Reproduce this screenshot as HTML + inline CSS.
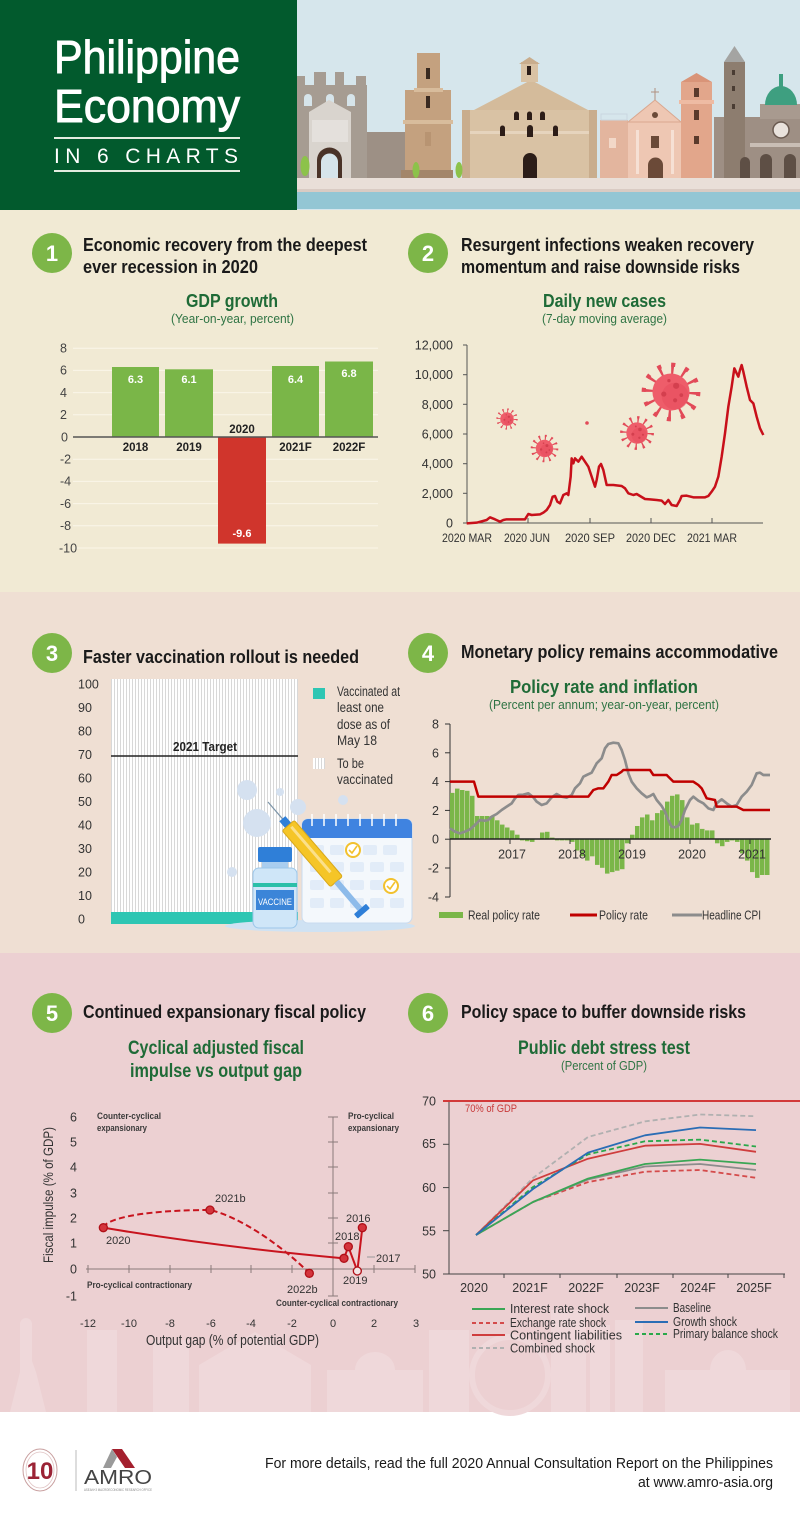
<!DOCTYPE html>
<html><head><meta charset="utf-8"><style>html,body{margin:0;padding:0;background:#fff}svg{display:block}</style></head>
<body>
<svg width="800" height="1520" viewBox="0 0 800 1520" xmlns="http://www.w3.org/2000/svg" xmlns:xlink="http://www.w3.org/1999/xlink" font-family="'Liberation Sans', sans-serif">
<defs>
<pattern id="stripe" width="3" height="10" patternUnits="userSpaceOnUse"><rect width="3" height="10" fill="#ffffff"/><rect width="0.8" height="10" fill="#cfcfcf"/></pattern>
<symbol id="virus" viewBox="-32 -32 64 64">
<circle r="22" fill="none" stroke="#e24a58" stroke-width="9" stroke-dasharray="2.5 9.02"/>
<circle r="26.5" fill="none" stroke="#e24a58" stroke-width="4" stroke-dasharray="4 9.875"/>
<circle r="18" fill="#ee5d6a"/>
<circle cx="4" cy="4" r="13" fill="#e54c5b" opacity="0.5"/>
<circle cx="5" cy="-6" r="3" fill="#d43f4e"/><circle cx="-7" cy="2" r="2.5" fill="#d43f4e"/><circle cx="4" cy="8" r="2" fill="#d43f4e"/><circle cx="-2" cy="-11" r="1.6" fill="#d43f4e"/><circle cx="10" cy="3" r="1.8" fill="#d43f4e"/>
</symbol>
</defs>

<!-- backgrounds -->
<rect x="0" y="209" width="800" height="384" fill="#f1ead4"/>
<rect x="0" y="592" width="800" height="362" fill="#efdfd3"/>
<rect x="0" y="953" width="800" height="460" fill="#ecd0d2"/>
<rect x="0" y="1412" width="800" height="108" fill="#ffffff"/>

<!-- HEADER -->
<rect x="0" y="0" width="297" height="210" fill="#025a2d"/>
<rect x="297" y="0" width="503" height="210" fill="#d6e6ec"/>
<text x="54" y="73" font-size="46" fill="#ffffff" stroke="#ffffff" stroke-width="0.9" textLength="186" lengthAdjust="spacingAndGlyphs">Philippine</text>
<text x="54" y="122" font-size="46" fill="#ffffff" stroke="#ffffff" stroke-width="0.9" textLength="186" lengthAdjust="spacingAndGlyphs">Economy</text>
<rect x="54" y="137" width="186" height="2" fill="#e3ece0"/>
<text x="54" y="163" font-size="21" fill="#ffffff" textLength="184" lengthAdjust="spacing">IN 6 CHARTS</text>
<rect x="54" y="170" width="186" height="2" fill="#e3ece0"/>

<!-- skyline -->
<g>
<rect x="297" y="85" width="70" height="93" fill="#a69c92"/>
<rect x="314" y="72" width="12" height="14" fill="#a69c92"/>
<rect x="335" y="72" width="9" height="14" fill="#a69c92"/>
<rect x="297" y="76" width="8" height="10" fill="#a69c92"/>
<rect x="356" y="76" width="10" height="10" fill="#a69c92"/>
<path d="M304,106 v-8 a4,4 0 0 1 8,0 v8z" fill="#d6e4ea"/>
<path d="M326,106 v-8 a4,4 0 0 1 8,0 v8z" fill="#d6e4ea"/>
<path d="M347,106 v-8 a4,4 0 0 1 8,0 v8z" fill="#d6e4ea"/>
<polygon points="309,112 329,100 351,112 351,178 309,178" fill="#d9d4ce"/>
<rect x="312" y="120" width="36" height="22" fill="#e4e0dc"/>
<path d="M317,178 V160 a12.5,12.5 0 0 1 25,0 V178z" fill="#4a3328"/>
<path d="M321,178 V162 a8.5,8.5 0 0 1 17,0 V178z" fill="#d6e4ea"/>
<rect x="367" y="132" width="39" height="46" fill="#9d9085"/>
<rect x="405" y="90" width="46" height="88" fill="#c4a17f"/>
<rect x="417" y="53" width="23" height="40" fill="#c4a17f"/>
<rect x="414" y="88" width="29" height="4" fill="#d8bc9c"/>
<rect x="403" y="120" width="50" height="4" fill="#d8bc9c"/>
<rect x="426" y="68" width="4" height="11" fill="#3a2a20"/>
<rect x="426" y="96" width="4" height="12" fill="#3a2a20"/>
<rect x="425" y="132" width="6" height="14" fill="#b89472"/>
<rect x="401" y="170" width="52" height="8" fill="#a3866a"/>
<rect x="462" y="110" width="135" height="68" fill="#d9c2a4"/>
<polygon points="474,110 531,80 588,110" fill="#d4bb9b"/>
<rect x="521" y="62" width="17" height="20" fill="#d9c2a4"/>
<polygon points="519,64 529.5,57 540,64" fill="#c9ad8d"/>
<rect x="527" y="66" width="4" height="9" fill="#2c1d18"/>
<rect x="462" y="131" width="135" height="3" fill="#e6d4bd"/>
<rect x="462" y="110" width="8" height="68" fill="#c9ad8d"/>
<rect x="589" y="110" width="8" height="68" fill="#c9ad8d"/>
<path d="M514,120 v-6 a2.5,2.5 0 0 1 5,0 v6z" fill="#2c1d18"/>
<path d="M527,120 v-6 a2.5,2.5 0 0 1 5,0 v6z" fill="#2c1d18"/>
<path d="M540,120 v-6 a2.5,2.5 0 0 1 5,0 v6z" fill="#2c1d18"/>
<path d="M500,136 v-8 a2.5,2.5 0 0 1 5,0 v8z" fill="#2c1d18"/>
<path d="M527,137 v-9 a3,3 0 0 1 6,0 v9z" fill="#2c1d18"/>
<path d="M553,136 v-8 a2.5,2.5 0 0 1 5,0 v8z" fill="#2c1d18"/>
<path d="M523,178 V160 a7,7 0 0 1 14,0 V178z" fill="#2c1d18"/>
<rect x="600" y="120" width="28" height="58" fill="#e3b59e"/>
<rect x="601" y="114" width="26" height="6" fill="none" stroke="#c9d6e0" stroke-width="1"/>
<rect x="609" y="138" width="7" height="10" fill="#f2d8c8"/>
<rect x="628" y="122" width="53" height="56" fill="#eec7b3"/>
<polygon points="628,122 655,100 681,122" fill="#eec7b3" stroke="#d9a78f" stroke-width="1"/>
<line x1="655" y1="88" x2="655" y2="100" stroke="#b09080" stroke-width="1"/>
<line x1="651" y1="92" x2="659" y2="92" stroke="#b09080" stroke-width="1"/>
<circle cx="655" cy="115" r="3" fill="#6b4a38"/>
<rect x="651" y="136" width="8" height="12" fill="#6b4a38"/>
<rect x="636" y="130" width="3" height="44" fill="#f6e0d4"/>
<rect x="671" y="130" width="3" height="44" fill="#f6e0d4"/>
<path d="M648,178 V165 a7.5,7.5 0 0 1 15,0 V178z" fill="#6b4a38"/>
<rect x="681" y="82" width="31" height="96" fill="#e2a68b"/>
<polygon points="681,82 696.5,73 712,82" fill="#d99478"/>
<rect x="679" y="100" width="35" height="4" fill="#eebba3"/>
<rect x="694" y="88" width="5" height="9" fill="#5a3a2c"/>
<rect x="694" y="110" width="5" height="10" fill="#5a3a2c"/>
<rect x="694" y="136" width="5" height="8" fill="#5a3a2c"/>
<rect x="714" y="117" width="86" height="61" fill="#9e8f84"/>
<rect x="724" y="62" width="21" height="116" fill="#8d7d6f"/>
<polygon points="724,62 734.5,46 745,62" fill="#a4a4a2"/>
<rect x="732" y="70" width="3" height="5" fill="#4a3c33"/>
<rect x="732" y="86" width="3" height="5" fill="#4a3c33"/>
<rect x="732" y="104" width="3" height="5" fill="#4a3c33"/>
<rect x="760" y="104" width="40" height="15" fill="#a89a8f"/>
<path d="M765,105 a16,19 0 0 1 32,0z" fill="#3e9f80"/>
<rect x="779" y="74" width="4" height="14" fill="#3e9f80"/>
<circle cx="781" cy="130" r="8" fill="#e9e2dc" stroke="#6a5a50" stroke-width="1.5"/>
<rect x="750" y="143" width="50" height="4" fill="#c9beb5"/>
<path d="M740,178 V162 a5,5 0 0 1 10,0 V178z" fill="#5e4f45"/>
<path d="M760,178 V160 a6,6 0 0 1 12,0 V178z" fill="#5e4f45"/>
<path d="M784,178 V160 a6,6 0 0 1 12,0 V178z" fill="#5e4f45"/>
<ellipse cx="305" cy="166" rx="4.5" ry="10" fill="#8cc24a"/>
<ellipse cx="416" cy="170" rx="3.5" ry="8" fill="#8cc24a"/>
<ellipse cx="459" cy="170" rx="3.5" ry="8" fill="#8cc24a"/>
<rect x="297" y="178" width="503" height="12" fill="#e9dfd8"/>
<rect x="297" y="189" width="503" height="3" fill="#d9cbc3"/>
<rect x="297" y="192" width="503" height="17" fill="#93c6d4"/>
</g>

<!-- CHART 1 -->
<circle cx="52" cy="253" r="20" fill="#7db648"/>
<text x="52" y="261" font-size="22" font-weight="bold" fill="#fff" text-anchor="middle">1</text>
<text x="83" y="251" font-size="18" font-weight="bold" fill="#1a1a1a" textLength="284" lengthAdjust="spacingAndGlyphs">Economic recovery from the deepest</text>
<text x="83" y="273" font-size="18" font-weight="bold" fill="#1a1a1a" textLength="175" lengthAdjust="spacingAndGlyphs">ever recession in 2020</text>
<text x="186" y="307" font-size="18" font-weight="bold" fill="#1f6b37" textLength="92" lengthAdjust="spacingAndGlyphs">GDP growth</text>
<text x="171" y="323" font-size="12.5" fill="#2f7444" textLength="123" lengthAdjust="spacingAndGlyphs">(Year-on-year, percent)</text>
<g stroke="#faf6e9" stroke-width="1">
<line x1="73" y1="348.2" x2="378" y2="348.2"/><line x1="73" y1="370.4" x2="378" y2="370.4"/><line x1="73" y1="392.6" x2="378" y2="392.6"/><line x1="73" y1="414.8" x2="378" y2="414.8"/><line x1="73" y1="459.2" x2="378" y2="459.2"/><line x1="73" y1="481.4" x2="378" y2="481.4"/><line x1="73" y1="503.6" x2="378" y2="503.6"/><line x1="73" y1="525.8" x2="378" y2="525.8"/><line x1="73" y1="548" x2="378" y2="548"/>
</g>
<g font-size="12.5" fill="#444">
<text x="60" y="352.5">8</text><text x="60" y="374.7">6</text><text x="60" y="396.9">4</text><text x="60" y="419.1">2</text><text x="61" y="441.3">0</text><text x="60" y="463.5">-2</text><text x="60" y="485.7">-4</text><text x="60" y="507.9">-6</text><text x="60" y="530.1">-8</text><text x="59" y="552.3">-10</text>
</g>
<rect x="112" y="367" width="47" height="70" fill="#7ab648"/>
<rect x="165" y="369.3" width="48" height="67.7" fill="#7ab648"/>
<rect x="218" y="437" width="48" height="106.6" fill="#d0352c"/>
<rect x="272" y="366" width="47" height="71" fill="#7ab648"/>
<rect x="325" y="361.5" width="48" height="75.5" fill="#7ab648"/>
<line x1="73" y1="437" x2="378" y2="437" stroke="#555" stroke-width="1.5"/>
<g font-size="11" font-weight="bold" fill="#fff" text-anchor="middle">
<text x="135.5" y="383">6.3</text><text x="189" y="383">6.1</text><text x="295.5" y="383">6.4</text><text x="349" y="377">6.8</text><text x="242" y="537">-9.6</text>
</g>
<g font-size="11.5" font-weight="bold" fill="#222" text-anchor="middle">
<text x="135.5" y="451">2018</text><text x="189" y="451">2019</text><text x="242" y="433">2020</text><text x="295.5" y="451">2021F</text><text x="349" y="451">2022F</text>
</g>

<!-- CHART 2 -->
<circle cx="428" cy="253" r="20" fill="#7db648"/>
<text x="428" y="261" font-size="22" font-weight="bold" fill="#fff" text-anchor="middle">2</text>
<text x="461" y="251" font-size="18" font-weight="bold" fill="#1a1a1a" textLength="293" lengthAdjust="spacingAndGlyphs">Resurgent infections weaken recovery</text>
<text x="461" y="273" font-size="18" font-weight="bold" fill="#1a1a1a" textLength="279" lengthAdjust="spacingAndGlyphs">momentum and raise downside risks</text>
<text x="543" y="307" font-size="18" font-weight="bold" fill="#1f6b37" textLength="123" lengthAdjust="spacingAndGlyphs">Daily new cases</text>
<text x="542" y="323" font-size="12.5" fill="#2f7444" textLength="125" lengthAdjust="spacingAndGlyphs">(7-day moving average)</text>
<g font-size="12.5" fill="#333" text-anchor="end">
<text x="453" y="349.5">12,000</text><text x="453" y="379.2">10,000</text><text x="453" y="408.8">8,000</text><text x="453" y="438.5">6,000</text><text x="453" y="468.2">4,000</text><text x="453" y="497.8">2,000</text><text x="453" y="527.5">0</text>
</g>
<g stroke="#555" stroke-width="1">
<line x1="467" y1="345" x2="467" y2="523"/>
<line x1="467" y1="523" x2="763" y2="523"/>
<line x1="463" y1="345" x2="467" y2="345"/><line x1="463" y1="374.7" x2="467" y2="374.7"/><line x1="463" y1="404.3" x2="467" y2="404.3"/><line x1="463" y1="434" x2="467" y2="434"/><line x1="463" y1="463.7" x2="467" y2="463.7"/><line x1="463" y1="493.3" x2="467" y2="493.3"/><line x1="463" y1="523" x2="467" y2="523"/>
<line x1="528" y1="518" x2="528" y2="523"/><line x1="590" y1="518" x2="590" y2="523"/><line x1="651" y1="518" x2="651" y2="523"/><line x1="712" y1="518" x2="712" y2="523"/>
</g>
<g font-size="12" fill="#333">
<text x="442" y="542" textLength="50" lengthAdjust="spacingAndGlyphs">2020 MAR</text><text x="504" y="542" textLength="46" lengthAdjust="spacingAndGlyphs">2020 JUN</text><text x="565" y="542" textLength="50" lengthAdjust="spacingAndGlyphs">2020 SEP</text><text x="626" y="542" textLength="50" lengthAdjust="spacingAndGlyphs">2020 DEC</text><text x="687" y="542" textLength="50" lengthAdjust="spacingAndGlyphs">2021 MAR</text>
</g>
<use xlink:href="#virus" href="#virus" x="495" y="407" width="24" height="24"/>
<use xlink:href="#virus" href="#virus" x="529" y="433" width="31" height="31"/>
<use xlink:href="#virus" href="#virus" x="618" y="414" width="38" height="38"/>
<use xlink:href="#virus" href="#virus" x="638" y="359" width="66" height="66"/>
<circle cx="587" cy="423" r="1.8" fill="#e24a58"/>
<g transform="translate(400,210) scale(0.333333)">
<path d="M200,940 L230,938 L260,930 L270,922 L285,928 L300,935 L310,930 L320,928 L375,928 L385,912 L395,915 L420,913 L430,908 L440,900 L450,885 L458,860 L465,858 L472,875 L480,880 L490,855 L500,850 L505,855 L512,800 L515,745 L520,760 L525,745 L535,755 L545,740 L555,755 L565,770 L575,800 L585,830 L590,810 L597,770 L603,762 L610,780 L620,825 L640,825 L665,828 L675,835 L685,850 L700,855 L710,852 L720,858 L735,867 L750,868 L770,870 L785,872 L795,882 L805,870 L815,885 L830,888 L840,870 L845,858 L860,857 L880,862 L900,862 L915,862 L925,858 L935,845 L945,830 L955,800 L965,740 L975,670 L985,590 L995,530 L1003,475 L1010,490 L1015,500 L1020,480 L1025,465 L1030,485 L1040,530 L1050,570 L1060,580 L1070,620 L1080,655 L1090,675" fill="none" stroke="#c8101a" stroke-width="7.5" stroke-linejoin="round"/>
</g>

<!-- CHART 3 -->
<circle cx="52" cy="653" r="20" fill="#7db648"/>
<text x="52" y="661" font-size="22" font-weight="bold" fill="#fff" text-anchor="middle">3</text>
<text x="83" y="663" font-size="18" font-weight="bold" fill="#1a1a1a" textLength="276" lengthAdjust="spacingAndGlyphs">Faster vaccination rollout is needed</text>
<g font-size="12.5" fill="#333">
<text x="78" y="688.5">100</text><text x="78" y="712">90</text><text x="78" y="735.5">80</text><text x="78" y="759">70</text><text x="78" y="782.5">60</text><text x="78" y="806">50</text><text x="78" y="829.5">40</text><text x="78" y="853">30</text><text x="78" y="876.5">20</text><text x="78" y="900">10</text><text x="78" y="923.5">0</text>
</g>
<rect x="111" y="679" width="187" height="245" fill="url(#stripe)"/>
<rect x="111" y="912" width="187" height="12" fill="#2ec6b3"/>
<line x1="111" y1="756" x2="298" y2="756" stroke="#222" stroke-width="1.6"/>
<text x="173" y="751" font-size="13" font-weight="bold" fill="#222" textLength="64" lengthAdjust="spacingAndGlyphs">2021 Target</text>
<rect x="313" y="688" width="12" height="11" fill="#2ec6b3"/>
<rect x="313" y="758" width="12" height="11" fill="url(#stripe)"/>
<g font-size="13.5" fill="#333">
<text x="337" y="696" textLength="63" lengthAdjust="spacingAndGlyphs">Vaccinated at</text>
<text x="337" y="712" textLength="47" lengthAdjust="spacingAndGlyphs">least one</text>
<text x="337" y="729" textLength="53" lengthAdjust="spacingAndGlyphs">dose as of</text>
<text x="337" y="745" textLength="40" lengthAdjust="spacingAndGlyphs">May 18</text>
<text x="337" y="768" textLength="27" lengthAdjust="spacingAndGlyphs">To be</text>
<text x="337" y="784" textLength="56" lengthAdjust="spacingAndGlyphs">vaccinated</text>
</g>
<!-- vaccine illustration -->
<g fill="#d5e1f0">
<circle cx="247" cy="790" r="10"/><circle cx="257" cy="823" r="14"/><circle cx="280" cy="792" r="4"/><circle cx="298" cy="807" r="8"/><circle cx="343" cy="800" r="5"/><circle cx="232" cy="872" r="5"/>
</g>
<ellipse cx="320" cy="926" rx="95" ry="6" fill="#cfe2f3"/>
<rect x="302" y="819" width="110" height="104" rx="6" fill="#f4f8fc" stroke="#c9dbef" stroke-width="1"/>
<path d="M308,819 h98 a6,6 0 0 1 6,6 v13 h-110 v-13 a6,6 0 0 1 6,-6z" fill="#3f83e0"/>
<g stroke="#fff" stroke-width="1.5"><line x1="312" y1="814" x2="312" y2="826"/><line x1="324" y1="814" x2="324" y2="826"/><line x1="336" y1="814" x2="336" y2="826"/><line x1="348" y1="814" x2="348" y2="826"/><line x1="360" y1="814" x2="360" y2="826"/><line x1="372" y1="814" x2="372" y2="826"/><line x1="384" y1="814" x2="384" y2="826"/><line x1="396" y1="814" x2="396" y2="826"/></g>
<g fill="#e2ecf8">
<rect x="310" y="845" width="14" height="10" rx="2"/><rect x="330" y="845" width="14" height="10" rx="2"/><rect x="363" y="845" width="14" height="10" rx="2"/><rect x="383" y="845" width="14" height="10" rx="2"/>
<rect x="310" y="862" width="14" height="10" rx="2"/><rect x="330" y="862" width="14" height="10" rx="2"/><rect x="350" y="862" width="14" height="10" rx="2"/><rect x="370" y="862" width="14" height="10" rx="2"/><rect x="390" y="862" width="14" height="10" rx="2"/>
<rect x="310" y="880" width="14" height="10" rx="2"/><rect x="330" y="880" width="14" height="10" rx="2"/><rect x="350" y="880" width="14" height="10" rx="2"/><rect x="370" y="880" width="14" height="10" rx="2"/>
<rect x="310" y="898" width="14" height="10" rx="2"/><rect x="330" y="898" width="14" height="10" rx="2"/><rect x="350" y="898" width="14" height="10" rx="2"/><rect x="370" y="898" width="14" height="10" rx="2"/><rect x="390" y="898" width="14" height="10" rx="2"/>
</g>
<circle cx="353" cy="850" r="7" fill="#fff" stroke="#f2c12e" stroke-width="2"/>
<polyline points="349,850 352,853 357,846" fill="none" stroke="#f2c12e" stroke-width="1.6"/>
<circle cx="391" cy="886" r="7" fill="#fff" stroke="#f2c12e" stroke-width="2"/>
<polyline points="387,886 390,889 395,882" fill="none" stroke="#f2c12e" stroke-width="1.6"/>
<rect x="258" y="847" width="34" height="15" rx="2" fill="#2f7fd8"/>
<rect x="262" y="862" width="26" height="6" fill="#a9cdef"/>
<rect x="253" y="868" width="44" height="60" rx="6" fill="#cfe6f8" stroke="#9cc7ea" stroke-width="1"/>
<rect x="253" y="883" width="44" height="4" fill="#2bbfa8"/>
<rect x="256" y="890" width="38" height="20" fill="#3b85d8"/>
<text x="275" y="905" font-size="9" fill="#fff" text-anchor="middle" textLength="34" lengthAdjust="spacingAndGlyphs">VACCINE</text>
<g transform="translate(268,802) rotate(49.3)">
<line x1="0" y1="0" x2="24" y2="0" stroke="#7c94a8" stroke-width="1.2"/>
<rect x="22" y="-4" width="9" height="8" fill="#2f7fd8"/>
<rect x="31" y="-8" width="74" height="16" rx="2" fill="#f5c527" stroke="#d9a81a" stroke-width="1"/>
<rect x="34" y="-3" width="60" height="3" fill="#fbe08a"/>
<rect x="105" y="-3" width="36" height="6" fill="#8dbbea"/>
<rect x="141" y="-8" width="6" height="16" rx="1" fill="#2f7fd8"/>
</g>

<!-- CHART 4 -->
<circle cx="428" cy="653" r="20" fill="#7db648"/>
<text x="428" y="661" font-size="22" font-weight="bold" fill="#fff" text-anchor="middle">4</text>
<text x="461" y="658" font-size="18" font-weight="bold" fill="#1a1a1a" textLength="317" lengthAdjust="spacingAndGlyphs">Monetary policy remains accommodative</text>
<text x="510" y="693" font-size="18" font-weight="bold" fill="#1f6b37" textLength="188" lengthAdjust="spacingAndGlyphs">Policy rate and inflation</text>
<text x="489" y="709" font-size="12.5" fill="#2f7444" textLength="230" lengthAdjust="spacingAndGlyphs">(Percent per annum; year-on-year, percent)</text>
<g font-size="12.5" fill="#333" text-anchor="end">
<text x="439" y="728.5">8</text><text x="439" y="757.3">6</text><text x="439" y="786.1">4</text><text x="439" y="814.9">2</text><text x="439" y="843.7">0</text><text x="439" y="872.5">-2</text><text x="439" y="901.3">-4</text>
</g>
<g stroke="#333" stroke-width="1">
<line x1="450" y1="724" x2="450" y2="897"/>
<line x1="445" y1="724" x2="450" y2="724"/><line x1="445" y1="752.8" x2="450" y2="752.8"/><line x1="445" y1="781.6" x2="450" y2="781.6"/><line x1="445" y1="810.4" x2="450" y2="810.4"/><line x1="445" y1="839.2" x2="450" y2="839.2"/><line x1="445" y1="868" x2="450" y2="868"/><line x1="445" y1="897" x2="450" y2="897"/>
</g>
<g fill="#7ab648">
<rect x="450" y="792.9" width="4.5" height="46.1"/><rect x="455" y="788.6" width="4.5" height="50.4"/><rect x="460" y="790" width="4.5" height="49"/><rect x="465" y="790.8" width="4.5" height="48.2"/><rect x="470" y="795.8" width="4.5" height="43.2"/>
<rect x="475" y="816" width="4.5" height="23"/><rect x="480" y="816" width="4.5" height="23"/><rect x="485" y="816" width="4.5" height="23"/><rect x="490" y="816" width="4.5" height="23"/>
<rect x="495" y="820.3" width="4.5" height="18.7"/><rect x="500" y="824.6" width="4.5" height="14.4"/><rect x="505" y="827.5" width="4.5" height="11.5"/><rect x="510" y="830.4" width="4.5" height="8.6"/><rect x="515" y="834.7" width="4.5" height="4.3"/>
<rect x="520" y="839" width="4.5" height="1.4"/><rect x="525" y="839" width="4.5" height="2.2"/><rect x="530" y="839" width="4.5" height="2.9"/>
<rect x="540" y="832.5" width="4.5" height="6.5"/><rect x="545" y="831.8" width="4.5" height="7.2"/><rect x="550" y="837.6" width="4.5" height="1.4"/>
<rect x="555" y="839" width="4.5" height="1.4"/><rect x="560" y="839" width="4.5" height="1.4"/><rect x="565" y="839" width="4.5" height="1.4"/><rect x="570" y="839" width="4.5" height="2.9"/>
<rect x="575" y="839" width="4.5" height="11.5"/><rect x="580" y="839" width="4.5" height="17.3"/><rect x="585" y="839" width="4.5" height="21.6"/><rect x="590" y="839" width="4.5" height="17.3"/><rect x="595" y="839" width="4.5" height="25.9"/><rect x="600" y="839" width="4.5" height="28.8"/><rect x="605" y="839" width="4.5" height="34.6"/><rect x="610" y="839" width="4.5" height="33.1"/><rect x="615" y="839" width="4.5" height="31.7"/><rect x="620" y="839" width="4.5" height="30.2"/><rect x="625" y="839" width="4.5" height="4.3"/>
<rect x="630" y="834.7" width="4.5" height="4.3"/><rect x="635" y="826" width="4.5" height="13"/><rect x="640" y="817.4" width="4.5" height="21.6"/><rect x="645" y="814.5" width="4.5" height="24.5"/><rect x="650" y="820.3" width="4.5" height="18.7"/><rect x="655" y="813.1" width="4.5" height="25.9"/><rect x="660" y="810.2" width="4.5" height="28.8"/><rect x="665" y="801.6" width="4.5" height="37.4"/><rect x="670" y="795.8" width="4.5" height="43.2"/><rect x="675" y="794.4" width="4.5" height="44.6"/><rect x="680" y="800.1" width="4.5" height="38.9"/><rect x="685" y="817.4" width="4.5" height="21.6"/><rect x="690" y="824.6" width="4.5" height="14.4"/><rect x="695" y="823.2" width="4.5" height="15.8"/><rect x="700" y="828.9" width="4.5" height="10.1"/><rect x="705" y="830.4" width="4.5" height="8.6"/><rect x="710" y="830.4" width="4.5" height="8.6"/>
<rect x="715" y="839" width="4.5" height="4.3"/><rect x="720" y="839" width="4.5" height="7.2"/><rect x="725" y="839" width="4.5" height="2.9"/><rect x="730" y="839" width="4.5" height="1.4"/><rect x="735" y="839" width="4.5" height="2.9"/><rect x="740" y="839" width="4.5" height="14.4"/><rect x="745" y="839" width="4.5" height="21.6"/><rect x="750" y="839" width="4.5" height="33.1"/><rect x="755" y="839" width="4.5" height="38.9"/><rect x="760" y="839" width="4.5" height="36"/><rect x="765" y="839" width="4.5" height="36"/>
</g>
<line x1="450" y1="839" x2="771" y2="839" stroke="#222" stroke-width="1.5"/>
<g stroke="#333" stroke-width="1"><line x1="510" y1="839" x2="510" y2="844"/><line x1="570" y1="839" x2="570" y2="844"/><line x1="630" y1="839" x2="630" y2="844"/><line x1="690" y1="839" x2="690" y2="844"/><line x1="750" y1="839" x2="750" y2="844"/></g>
<g transform="translate(400,590) scale(0.333333)" fill="none" stroke-linejoin="round">
<path d="M150,715 L165,725 L180,730 L195,725 L210,718 L225,705 L240,690 L255,692 L265,690 L275,680 L290,672 L305,660 L320,650 L335,640 L345,625 L355,615 L370,614 L385,610 L400,622 L410,635 L425,645 L440,640 L455,622 L470,612 L485,620 L500,623 L515,615 L525,595 L540,580 L550,560 L560,555 L575,548 L590,520 L605,505 L615,475 L625,462 L640,458 L655,460 L665,480 L675,510 L685,550 L695,575 L710,595 L725,610 L740,622 L750,618 L760,612 L770,630 L785,648 L795,665 L805,690 L815,710 L825,712 L835,708 L845,690 L855,660 L870,630 L880,620 L895,632 L910,640 L925,655 L940,660 L950,640 L965,628 L980,640 L995,650 L1010,645 L1025,620 L1040,605 L1055,585 L1070,550 L1080,548 L1090,555 L1110,555" stroke="#8c8c8c" stroke-width="8"/>
<path d="M150,575 L222,575 L235,620 L565,620 L580,600 L595,595 L610,595 L625,575 L635,555 L650,555 L665,545 L670,540 L750,540 L760,555 L800,555 L820,575 L880,575 L895,585 L905,595 L920,625 L945,630 L950,650 L1010,650 L1030,660 L1110,660" stroke="#c00000" stroke-width="7.5"/>
</g>
<g font-size="12.5" fill="#333" text-anchor="middle">
<text x="512" y="858.5">2017</text><text x="572" y="858.5">2018</text><text x="632" y="858.5">2019</text><text x="692" y="858.5">2020</text><text x="752" y="858.5">2021</text>
</g>
<rect x="439" y="912" width="24" height="6" fill="#7ab648"/>
<text x="468" y="919.5" font-size="12.5" fill="#333" textLength="72" lengthAdjust="spacingAndGlyphs">Real policy rate</text>
<line x1="570" y1="915" x2="597" y2="915" stroke="#c00000" stroke-width="3"/>
<text x="599" y="919.5" font-size="12.5" fill="#333" textLength="49" lengthAdjust="spacingAndGlyphs">Policy rate</text>
<line x1="672" y1="915" x2="702" y2="915" stroke="#8c8c8c" stroke-width="3"/>
<text x="702" y="919.5" font-size="12.5" fill="#333" textLength="59" lengthAdjust="spacingAndGlyphs">Headline CPI</text>

<!-- section 3 faint silhouettes -->
<g fill="#efd8da">
<rect x="20" y="1318" width="12" height="94" rx="6"/>
<polygon points="10,1412 20,1372 28,1350 36,1372 46,1412"/>
<rect x="87" y="1330" width="30" height="82"/>
<rect x="153" y="1340" width="36" height="72"/>
<polygon points="199,1412 199,1365 255,1332 311,1365 311,1412"/>
<rect x="327" y="1370" width="96" height="42"/>
<path d="M355,1370 a20,18 0 0 1 40,0z"/>
<rect x="429" y="1330" width="40" height="82"/>
<circle cx="510" cy="1375" r="38" fill="none" stroke="#efd8da" stroke-width="6"/>
<rect x="551" y="1310" width="35" height="102"/>
<rect x="590" y="1325" width="20" height="87"/>
<rect x="615" y="1320" width="28" height="92"/>
<rect x="665" y="1370" width="125" height="42"/>
<path d="M710,1370 a18,20 0 0 1 36,0z"/>
</g>

<!-- CHART 5 -->
<circle cx="52" cy="1013" r="20" fill="#7db648"/>
<text x="52" y="1021" font-size="22" font-weight="bold" fill="#fff" text-anchor="middle">5</text>
<text x="83" y="1018" font-size="18" font-weight="bold" fill="#1a1a1a" textLength="283" lengthAdjust="spacingAndGlyphs">Continued expansionary fiscal policy</text>
<text x="128" y="1054" font-size="19" font-weight="bold" fill="#1f6b37" textLength="176" lengthAdjust="spacingAndGlyphs">Cyclical adjusted fiscal</text>
<text x="130" y="1077" font-size="19" font-weight="bold" fill="#1f6b37" textLength="172" lengthAdjust="spacingAndGlyphs">impulse vs output gap</text>
<g font-size="12.5" fill="#333" text-anchor="end">
<text x="77" y="1121.5">6</text><text x="77" y="1146.5">5</text><text x="77" y="1171.5">4</text><text x="77" y="1197.5">3</text><text x="77" y="1222.5">2</text><text x="77" y="1247.5">1</text><text x="77" y="1273.5">0</text><text x="77" y="1300.5">-1</text>
</g>
<text transform="translate(53,1195) rotate(-90)" x="-68" y="0" font-size="13.5" fill="#333" textLength="136" lengthAdjust="spacingAndGlyphs">Fiscal impulse (% of GDP)</text>
<g stroke="#8a7a7a" stroke-width="1">
<line x1="86" y1="1269" x2="415" y2="1269"/>
<line x1="333" y1="1117" x2="333" y2="1296"/>
<line x1="88" y1="1265" x2="88" y2="1273"/><line x1="129" y1="1265" x2="129" y2="1273"/><line x1="170" y1="1265" x2="170" y2="1273"/><line x1="211" y1="1265" x2="211" y2="1273"/><line x1="251" y1="1265" x2="251" y2="1273"/><line x1="292" y1="1265" x2="292" y2="1273"/><line x1="374" y1="1265" x2="374" y2="1273"/><line x1="415" y1="1265" x2="415" y2="1273"/>
<line x1="328" y1="1117" x2="338" y2="1117"/><line x1="328" y1="1142" x2="338" y2="1142"/><line x1="328" y1="1167" x2="338" y2="1167"/><line x1="328" y1="1193" x2="338" y2="1193"/><line x1="328" y1="1218" x2="338" y2="1218"/><line x1="328" y1="1243" x2="338" y2="1243"/><line x1="328" y1="1296" x2="338" y2="1296"/>
</g>
<g font-size="9.5" font-weight="bold" fill="#3a3a3a">
<text x="97" y="1119" textLength="64" lengthAdjust="spacingAndGlyphs">Counter-cyclical</text>
<text x="97" y="1131" textLength="50" lengthAdjust="spacingAndGlyphs">expansionary</text>
<text x="348" y="1119" textLength="46" lengthAdjust="spacingAndGlyphs">Pro-cyclical</text>
<text x="348" y="1131" textLength="51" lengthAdjust="spacingAndGlyphs">expansionary</text>
<text x="87" y="1288" textLength="105" lengthAdjust="spacingAndGlyphs">Pro-cyclical contractionary</text>
<text x="276" y="1306" textLength="122" lengthAdjust="spacingAndGlyphs">Counter-cyclical contractionary</text>
</g>
<g transform="translate(0,980) scale(0.333333)" fill="none">
<path d="M310,743 Q650,800 1032,835 L1045,800 L1072,873 L1087,743" stroke="#c8141e" stroke-width="6" stroke-linejoin="round"/>
<path d="M310,743 C320,712 450,690 630,690 C720,710 850,800 928,880" stroke="#c8141e" stroke-width="6" stroke-dasharray="18 10"/>
<g fill="#d4343c" stroke="#b01018" stroke-width="4">
<circle cx="310" cy="743" r="12"/><circle cx="630" cy="690" r="12"/><circle cx="928" cy="880" r="12"/><circle cx="1087" cy="743" r="12"/><circle cx="1045" cy="800" r="12"/><circle cx="1032" cy="835" r="12"/>
<circle cx="1072" cy="873" r="12" fill="#f2e6e6"/>
</g>
</g>
<line x1="367" y1="1257" x2="375" y2="1257" stroke="#999" stroke-width="1"/>
<g font-size="11" fill="#333">
<text x="106" y="1244">2020</text><text x="215" y="1202">2021b</text><text x="287" y="1293">2022b</text><text x="346" y="1222">2016</text><text x="335" y="1240">2018</text><text x="343" y="1284">2019</text><text x="376" y="1262">2017</text>
</g>
<g font-size="11" fill="#333" text-anchor="middle">
<text x="88" y="1327">-12</text><text x="129" y="1327">-10</text><text x="170" y="1327">-8</text><text x="211" y="1327">-6</text><text x="251" y="1327">-4</text><text x="292" y="1327">-2</text><text x="333" y="1327">0</text><text x="374" y="1327">2</text><text x="416" y="1327">3</text>
</g>
<text x="146" y="1345" font-size="15" fill="#333" textLength="173" lengthAdjust="spacingAndGlyphs">Output gap (% of potential GDP)</text>

<!-- CHART 6 -->
<circle cx="428" cy="1013" r="20" fill="#7db648"/>
<text x="428" y="1021" font-size="22" font-weight="bold" fill="#fff" text-anchor="middle">6</text>
<text x="461" y="1018" font-size="18" font-weight="bold" fill="#1a1a1a" textLength="285" lengthAdjust="spacingAndGlyphs">Policy space to buffer downside risks</text>
<text x="518" y="1054" font-size="19" font-weight="bold" fill="#1f6b37" textLength="172" lengthAdjust="spacingAndGlyphs">Public debt stress test</text>
<text x="561" y="1070" font-size="12.5" fill="#2f7444" textLength="86" lengthAdjust="spacingAndGlyphs">(Percent of GDP)</text>
<g font-size="12.5" fill="#333" text-anchor="end">
<text x="436" y="1105.5">70</text><text x="436" y="1147.8">65</text><text x="436" y="1191.8">60</text><text x="436" y="1235.5">55</text><text x="436" y="1278.5">50</text>
</g>
<g stroke="#444" stroke-width="1">
<line x1="449" y1="1101" x2="449" y2="1274"/>
<line x1="449" y1="1274" x2="785" y2="1274"/>
<line x1="443" y1="1101" x2="449" y2="1101"/><line x1="443" y1="1144.3" x2="449" y2="1144.3"/><line x1="443" y1="1187.6" x2="449" y2="1187.6"/><line x1="443" y1="1230.7" x2="449" y2="1230.7"/><line x1="443" y1="1274" x2="449" y2="1274"/>
<line x1="504" y1="1274" x2="504" y2="1278"/><line x1="560" y1="1274" x2="560" y2="1278"/><line x1="617" y1="1274" x2="617" y2="1278"/><line x1="673" y1="1274" x2="673" y2="1278"/><line x1="728" y1="1274" x2="728" y2="1278"/><line x1="784" y1="1274" x2="784" y2="1278"/>
</g>
<line x1="443" y1="1101" x2="800" y2="1101" stroke="#d23a3a" stroke-width="2"/>
<text x="465" y="1112" font-size="11" fill="#c83a3a" textLength="52" lengthAdjust="spacingAndGlyphs">70% of GDP</text>
<g fill="none" stroke-width="1.8" stroke-linejoin="round">
<polyline points="476,1235 533,1178 588,1137 645,1121.4 700,1114.5 756,1116.2" stroke="#b0b0b0" stroke-dasharray="5 3"/>
<polyline points="476,1235 533,1202 588,1182.1 645,1171.7 700,1170 756,1177.8" stroke="#d44b4b" stroke-dasharray="5 3"/>
<polyline points="476,1235 533,1202 588,1179.5 645,1166.5 700,1164 756,1170" stroke="#8c8c8c"/>
<polyline points="476,1235 533,1202 588,1178.6 645,1164 700,1159.6 756,1164" stroke="#3aa655"/>
<polyline points="476,1235 533,1180.4 588,1158.7 645,1145.7 700,1143.9 756,1151.8" stroke="#cf3d3d"/>
<polyline points="476,1235 533,1187 588,1154.4 645,1141.3 700,1139.6 756,1146.5" stroke="#2aa84a" stroke-dasharray="5 3"/>
<polyline points="476,1235 533,1189 588,1152.6 645,1135.3 700,1127.5 756,1130.1" stroke="#2a6db5"/>
</g>
<g font-size="12.5" fill="#333" text-anchor="middle">
<text x="474" y="1292">2020</text><text x="530" y="1292">2021F</text><text x="586" y="1292">2022F</text><text x="642" y="1292">2023F</text><text x="698" y="1292">2024F</text><text x="754" y="1292">2025F</text>
</g>
<g stroke-width="2">
<line x1="472" y1="1309" x2="505" y2="1309" stroke="#3aa655"/>
<line x1="472" y1="1323" x2="505" y2="1323" stroke="#d44b4b" stroke-dasharray="4 3"/>
<line x1="472" y1="1335" x2="505" y2="1335" stroke="#cf3d3d"/>
<line x1="472" y1="1348" x2="505" y2="1348" stroke="#b0b0b0" stroke-dasharray="4 3"/>
<line x1="635" y1="1308" x2="668" y2="1308" stroke="#8c8c8c"/>
<line x1="635" y1="1322" x2="668" y2="1322" stroke="#2a6db5"/>
<line x1="635" y1="1334" x2="668" y2="1334" stroke="#2aa84a" stroke-dasharray="4 3"/>
</g>
<g font-size="12.5" fill="#333">
<text x="510" y="1313" textLength="99" lengthAdjust="spacingAndGlyphs">Interest rate shock</text>
<text x="510" y="1327" textLength="96" lengthAdjust="spacingAndGlyphs">Exchange rate shock</text>
<text x="510" y="1339.5" textLength="112" lengthAdjust="spacingAndGlyphs">Contingent liabilities</text>
<text x="510" y="1352.5" textLength="85" lengthAdjust="spacingAndGlyphs">Combined shock</text>
<text x="673" y="1312" textLength="38" lengthAdjust="spacingAndGlyphs">Baseline</text>
<text x="673" y="1326" textLength="64" lengthAdjust="spacingAndGlyphs">Growth shock</text>
<text x="673" y="1338" textLength="105" lengthAdjust="spacingAndGlyphs">Primary balance shock</text>
</g>

<!-- FOOTER -->
<ellipse cx="40" cy="1470" rx="17" ry="21" fill="none" stroke="#c9a0a0" stroke-width="1"/>
<ellipse cx="40" cy="1470" rx="14" ry="18" fill="none" stroke="#e0c4c4" stroke-width="0.8"/>
<text x="40" y="1479" font-size="24" font-weight="bold" fill="#9b2335" text-anchor="middle">10</text>
<line x1="76" y1="1450" x2="76" y2="1491" stroke="#bbb" stroke-width="1"/>
<polygon points="112,1449 122,1449 135,1468 125,1468" fill="#a4202e"/>
<polygon points="112,1449 103,1468 111,1468 117,1457" fill="#9a9a9a"/>
<text x="84" y="1484" font-size="20" fill="#444" textLength="68" lengthAdjust="spacingAndGlyphs">AMRO</text>
<text x="84" y="1491" font-size="3.5" fill="#888" textLength="68" lengthAdjust="spacingAndGlyphs">ASEAN+3 MACROECONOMIC RESEARCH OFFICE</text>
<text x="265" y="1468" font-size="14.5" fill="#1a1a1a" textLength="508" lengthAdjust="spacingAndGlyphs">For more details, read the full 2020 Annual Consultation Report on the Philippines</text>
<text x="638" y="1487" font-size="14.5" fill="#1a1a1a" textLength="135" lengthAdjust="spacingAndGlyphs">at www.amro-asia.org</text>
</svg>
</body></html>
